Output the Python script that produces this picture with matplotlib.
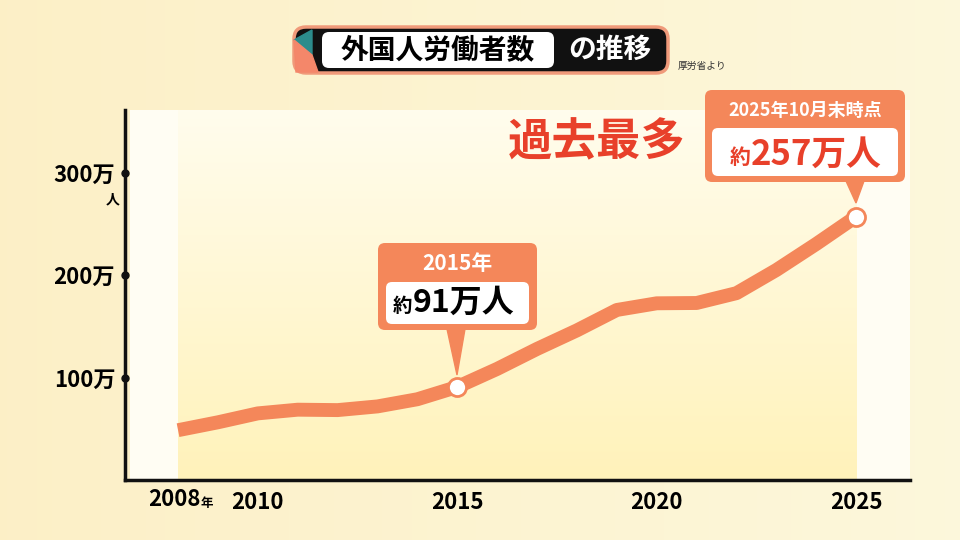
import matplotlib.pyplot as plt
import numpy as np
from matplotlib.patches import FancyBboxPatch, Polygon, Rectangle

plt.rcParams['font.family'] = ['Noto Sans CJK JP', 'DejaVu Sans']

years = [2008, 2009, 2010, 2011, 2012, 2013, 2014, 2015, 2016, 2017,
         2018, 2019, 2020, 2021, 2022, 2023, 2024, 2025]
workers = [48.6, 56.3, 65.0, 68.6, 68.2, 71.8, 78.8, 90.8, 108.4, 127.9,
           146.0, 165.9, 172.4, 172.7, 182.3, 204.9, 230.3, 257.0]
ytick_vals = [100, 200, 300]
ytick_labels = ['100万', '200万', '300万']
xtick_vals = [2010, 2015, 2020, 2025]
xtick_labels = ['2010', '2015', '2020', '2025']

ORANGE = '#f4875a'
RED = '#e8402a'

fig = plt.figure(figsize=(9.6, 5.4), dpi=100)

# background layer, pixel coordinates
bg = fig.add_axes([0, 0, 1, 1], zorder=0)
bg.set_xlim(0, 960)
bg.set_ylim(540, 0)
bg.axis('off')
grad = np.linspace(0, 1, 256).reshape(1, -1)
bg.imshow(np.dstack([np.full_like(grad, 0.99), 0.94 + 0.03 * grad, 0.78 + 0.08 * grad]),
          extent=[0, 960, 540, 0], aspect='auto')
bg.add_patch(Rectangle((130, 110), 780, 370, color='#fffdf3', lw=0))

# data axes
ax = fig.add_axes([125 / 960, 60 / 540, 785 / 960, 370 / 540], zorder=1)
ax.patch.set_alpha(0)
ax.set_xlim(2006.67, 2026.35)
ax.set_ylim(0, 361)
vert = np.linspace(0, 1, 256).reshape(-1, 1)
ax.imshow(np.dstack([np.full_like(vert, 1.0), 0.99 - 0.04 * vert, 0.93 - 0.2 * vert]),
          extent=[2008, 2025, 0, 361], aspect='auto', zorder=0)
ax.plot(years, workers, color=ORANGE, lw=10, solid_capstyle='butt', zorder=2)
for yr in [2015, 2025]:
    ax.plot(yr, workers[years.index(yr)], 'o', ms=13, mfc='white', mec=ORANGE, mew=2, zorder=3)
for s in ['top', 'right']:
    ax.spines[s].set_visible(False)
for s in ['left', 'bottom']:
    ax.spines[s].set_linewidth(2.5)
    ax.spines[s].set_color('#111111')
ax.tick_params(length=0)
ax.set_yticks(ytick_vals)
ax.set_yticklabels(ytick_labels, fontsize=16, fontweight='bold')
ax.plot([2006.67] * 3, ytick_vals, 'o', color='#111111', ms=5, clip_on=False, zorder=4)
ax.tick_params(axis='y', pad=7)
ax.set_xticks(xtick_vals)
ax.set_xticklabels(xtick_labels, fontsize=16, fontweight='bold')
ax.tick_params(axis='x', pad=8)

# top overlay for annotations
top = fig.add_axes([0, 0, 1, 1], zorder=2)
top.patch.set_alpha(0)
top.set_xlim(0, 960)
top.set_ylim(540, 0)
top.axis('off')

top.text(113, 199, '人', fontsize=10, fontweight='bold', ha='center', va='center')
top.text(174, 500, '2008', fontsize=16, fontweight='bold', ha='center', va='center')
top.text(207, 503, '年', fontsize=9, fontweight='bold', ha='center', va='center')

# title bar
top.add_patch(FancyBboxPatch((294, 27), 374, 46, boxstyle='round,pad=0,rounding_size=12',
                             fc='#111111', ec='#f09a7a', lw=2.5))
top.add_patch(Polygon([[294, 40], [312, 30], [312, 55]], color='#2c8c8c'))
top.add_patch(Polygon([[294, 40], [312, 55], [318, 72], [296, 72]], color='#f4876a'))
top.add_patch(FancyBboxPatch((322, 32), 232, 36, boxstyle='round,pad=0,rounding_size=7',
                             fc='white', ec='none'))
top.text(438, 50, '外国人労働者数', fontsize=20, fontweight='bold', ha='center', va='center')
top.text(610, 50, 'の推移', fontsize=20, fontweight='bold', color='white', ha='center', va='center')
top.text(678, 66, '厚労省より', fontsize=7, ha='left', va='center', color='#333333')

# 2015 callout
top.add_patch(FancyBboxPatch((378, 243), 159, 87, boxstyle='round,pad=0,rounding_size=7',
                             fc=ORANGE, ec='none'))
top.add_patch(Polygon([[447, 329], [465, 329], [457, 375]], color=ORANGE))
top.add_patch(FancyBboxPatch((386, 282), 143, 42, boxstyle='round,pad=0,rounding_size=6',
                             fc='white', ec='none'))
top.text(457, 264, '2015年', fontsize=15, fontweight='bold', color='white', ha='center', va='center')
top.text(402, 306, '約', fontsize=14, fontweight='bold', ha='center', va='center')
top.text(464, 303, '91万人', fontsize=23, fontweight='bold', ha='center', va='center')

# 2025 callout
top.add_patch(FancyBboxPatch((705, 90), 200, 92, boxstyle='round,pad=0,rounding_size=7',
                             fc=ORANGE, ec='none'))
top.add_patch(Polygon([[846, 181], [864, 181], [856, 203]], color=ORANGE))
top.add_patch(FancyBboxPatch((712, 128), 186, 48, boxstyle='round,pad=0,rounding_size=6',
                             fc='white', ec='none'))
top.text(805, 110, '2025年10月末時点', fontsize=13, fontweight='bold', color='white', ha='center', va='center')
top.text(740, 157, '約', fontsize=15, fontweight='bold', color=RED, ha='center', va='center')
top.text(816, 154, '257万人', fontsize=25, fontweight='bold', color=RED, ha='center', va='center')

top.text(597, 142, '過去最多', fontsize=32, fontweight='bold', color=RED, ha='center', va='center')

fig.savefig('out.png', dpi=100)
